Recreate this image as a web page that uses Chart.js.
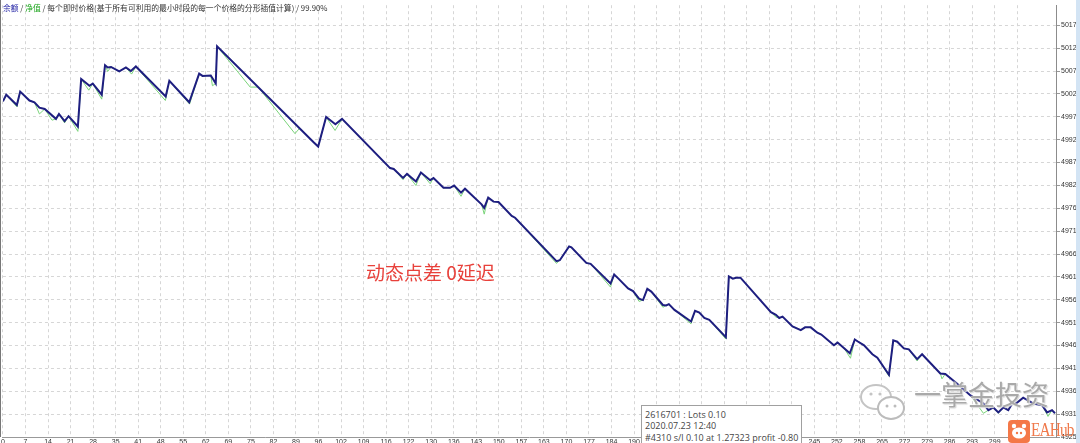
<!DOCTYPE html>
<html>
<head>
<meta charset="utf-8">
<script src="https://cdn.jsdelivr.net/npm/chart.js@4"></script>
<style>
  html, body { margin: 0; padding: 0; width: 1080px; height: 443px; overflow: hidden; background: #fff; }
  #wrap { position: absolute; left: 0; top: 0; width: 1080px; height: 451px; }
  .ov { position: absolute; white-space: nowrap; }
  #title { left: 3px; top: 3px; font: 7.8px/10px "Noto Sans CJK SC", sans-serif; color: #333; }
  #note { left: 366px; top: 262px; font: 19px/20px "Noto Sans CJK SC", sans-serif; color: #e8413b; }
  #tip { left: 641px; top: 405px; width: 161px; height: 45px; border: 1px solid #a0a0a0; background: #fff;
         padding: 3px 0 0 3px; box-sizing: border-box; font: 9px/11.3px "Open Sans", sans-serif; color: #444; }
  #wm { left: 914px; top: 379px; font: 27px/30px "Noto Sans CJK SC", sans-serif; color: #a9a9a9;
        text-shadow: 0 0 2px #fff, 1px 1px 1px #d0d0d0; }
  #hub { left: 1031px; top: 419px; font: 18px/22px "Liberation Serif", serif; color: #f07a4c; letter-spacing: -1px;
         transform: scaleX(0.85); transform-origin: left top; }
  #strip { left: 1076px; top: 0; width: 4px; height: 443px; background: #d3e4f4; }
  #lborder { left: 0; top: 0; width: 1px; height: 437px; background: #777; }
</style>
</head>
<body>
<div id="wrap"><canvas id="chart" width="1080" height="451"></canvas></div>
<div class="ov" id="lborder"></div>
<div class="ov" id="title"><span style="color:#2626a6">余额</span> / <span style="color:#1fa51f">净值</span> / 每个即时价格(基于所有可利用的最小时段的每一个价格的分形插值计算) / 99.90%</div>
<div class="ov" id="note">动态点差 0延迟</div>
<div class="ov" id="tip">2616701 : Lots 0.10<br>2020.07.23 12:40<br>#4310 s/l 0.10 at 1.27323 profit -0.80</div>
<svg class="ov" style="left:859px;top:383px" width="50" height="42">
  <ellipse cx="17" cy="14" rx="15" ry="12" fill="rgba(255,255,255,0.7)" stroke="#c4c4c4" stroke-width="2"/>
  <circle cx="12" cy="11" r="1.6" fill="#c4c4c4"/><circle cx="21" cy="11" r="1.6" fill="#c4c4c4"/>
  <ellipse cx="32" cy="25" rx="13" ry="11" fill="#fff" stroke="#bcbcbc" stroke-width="2"/>
  <circle cx="28" cy="23" r="1.5" fill="#bcbcbc"/><circle cx="36" cy="23" r="1.5" fill="#bcbcbc"/>
</svg>
<div class="ov" id="wm">一掌金投资</div>
<svg class="ov" style="left:1008px;top:420px" width="22" height="23">
  <rect x="0" y="0" width="22" height="23" rx="4" fill="#f47848"/>
  <ellipse cx="11" cy="13" rx="7" ry="5.5" fill="#fff"/>
  <circle cx="6" cy="6" r="2.2" fill="#fff"/><circle cx="16" cy="6" r="2.2" fill="#fff"/>
  <circle cx="9" cy="13" r="1.2" fill="#f47848"/><circle cx="13" cy="13" r="1.2" fill="#f47848"/>
</svg>
<div class="ov" id="hub">EAHub</div>
<div class="ov" id="strip"></div>
<script>
// x: trade number, y: account value
const xTickLabels = [0, 7, 14, 21, 28, 35, 41, 48, 55, 62, 69, 75, 82, 89, 96, 102, 109, 116, 122, 130,
  136, 143, 150, 157, 163, 170, 177, 184, 190, 197, 204, 211, 218, 224, 231, 238, 245, 252, 258, 265,
  272, 279, 286, 293, 299, 306];
const yTickLabels = [4925, 4931, 4936, 4941, 4946, 4951, 4956, 4961, 4966, 4971, 4976, 4982, 4987, 4992,
  4997, 5002, 5007, 5012, 5017];

// balance (dark blue)
const tradeNo = [0, 1.0, 4.2, 5.2, 8.0, 9.5, 11.0, 12.6, 16.0, 16.9,
  18.6, 19.8, 22.6, 23.6, 26.1, 27.1, 29.8, 30.8, 31.6, 32.6,
  35.1, 37.1, 38.6, 40.1, 49.1, 50.2, 56.2, 59.2, 60.2, 62.7,
  64.2, 64.6, 93.8, 95.1, 97.5, 100.3, 102.3, 116.8, 117.9, 120.7,
  121.9, 124.6, 126.1, 128.9, 129.9, 132.9, 134.9, 136.1, 138.2, 139.4,
  144.4, 145.2, 146.4, 148.0, 149.5, 153.5, 154.5, 167.0, 168.0, 170.8,
  171.5, 176.0, 177.3, 183.3, 184.4, 185.7, 188.6, 190.1, 191.9, 193.1,
  194.4, 195.6, 199.1, 200.1, 200.9, 202.6, 207.6, 208.8, 210.1, 211.6,
  213.1, 218.1, 219.0, 220.2, 221.2, 222.5, 231.7, 233.2, 234.2, 235.2,
  238.2, 240.7, 242.0, 243.7, 245.7, 246.9, 250.7, 251.8, 253.7, 255.5,
  257.0, 257.8, 259.8, 262.3, 263.8, 267.3, 268.6, 269.8, 271.8, 273.3,
  275.8, 277.3, 282.8, 284.3, 287.9, 291.9, 295.8, 297.3, 298.8, 300.3,
  301.8, 303.3, 304.5, 306.0, 307.8, 310.8, 313.5, 315.0, 316.5, 317.4];
const balance = [5000.0, 5001.5, 4999.2, 5002.2, 5000.2, 4999.8, 4998.6, 4998.3, 4996.1, 4997.2,
  4995.6, 4996.7, 4994.4, 5005.0, 5003.5, 5004.0, 5001.5, 5008.1, 5007.6, 5007.7,
  5006.7, 5007.6, 5006.8, 5007.8, 5001.1, 5004.6, 4999.8, 5006.2, 5005.7, 5005.8,
  5004.0, 5012.3, 4990.8, 4989.9, 4996.5, 4994.9, 4996.1, 4985.1, 4984.9, 4982.9,
  4983.8, 4982.1, 4984.1, 4982.4, 4982.9, 4980.7, 4980.7, 4981.2, 4979.6, 4980.5,
  4977.0, 4976.2, 4978.5, 4977.6, 4977.5, 4974.4, 4974.0, 4964.3, 4964.5, 4967.6,
  4967.4, 4963.9, 4963.7, 4959.3, 4961.3, 4960.4, 4958.2, 4957.6, 4955.9, 4955.6,
  4958.1, 4957.5, 4954.5, 4954.4, 4954.7, 4953.4, 4950.8, 4953.2, 4952.8, 4951.6,
  4951.2, 4947.3, 4960.9, 4960.4, 4960.6, 4960.6, 4952.9, 4952.3, 4951.6, 4951.9,
  4949.7, 4948.9, 4949.5, 4949.5, 4948.3, 4947.9, 4945.5, 4946.1, 4944.9, 4943.7,
  4946.8, 4946.4, 4945.5, 4943.5, 4942.7, 4938.9, 4946.6, 4946.3, 4944.8, 4944.6,
  4942.4, 4943.5, 4939.2, 4939.1, 4936.9, 4934.3, 4932.5, 4931.0, 4931.6, 4930.5,
  4931.6, 4931.0, 4932.5, 4932.7, 4933.8, 4932.5, 4932.1, 4930.5, 4931.0, 4930.3];

// equity (green), dips below balance while trades are open
const eqTradeNo = [0, 1.0, 4.2, 5.2, 8.0, 9.5, 11.0, 12.6, 14.8, 16.0,
  16.9, 18.6, 19.8, 22.6, 23.6, 25.9, 27.1, 29.8, 30.8, 31.6,
  32.6, 35.1, 37.1, 38.8, 40.1, 49.0, 50.2, 56.3, 59.2, 60.2,
  62.7, 63.2, 64.2, 64.6, 74.6, 77.0, 88.1, 89.5, 93.8, 95.1,
  97.5, 100.2, 102.3, 116.8, 117.9, 120.7, 121.9, 124.6, 126.1, 128.9,
  129.9, 132.9, 134.9, 136.1, 138.2, 139.4, 144.4, 145.2, 146.4, 148.0,
  149.5, 153.5, 154.5, 167.0, 168.0, 170.8, 171.5, 176.0, 177.3, 183.3,
  184.4, 185.7, 188.6, 190.1, 191.9, 193.1, 194.4, 195.6, 199.1, 200.1,
  200.9, 202.6, 207.6, 208.8, 210.1, 211.6, 213.1, 218.1, 219.0, 220.2,
  221.2, 222.5, 231.7, 233.2, 234.2, 235.2, 238.2, 240.7, 242.0, 243.7,
  245.7, 246.9, 250.7, 251.8, 253.7, 255.7, 257.0, 257.8, 259.8, 262.3,
  263.8, 267.3, 268.6, 269.8, 271.8, 273.3, 275.8, 277.3, 282.8, 283.3,
  284.3, 287.9, 291.9, 295.8, 297.3, 298.8, 300.3, 301.8, 303.3, 304.5,
  306.0, 307.8, 310.8, 313.5, 315.3, 316.5, 317.4];
const equity = [5000.0, 5001.5, 4998.8, 5002.2, 5000.2, 4999.8, 4997.2, 4998.3, 4995.8, 4996.1,
  4997.2, 4995.2, 4996.7, 4993.3, 5005.0, 5002.5, 5004.0, 5000.5, 5008.1, 5006.7,
  5007.7, 5006.7, 5007.6, 5006.1, 5007.8, 5000.2, 5004.6, 4999.4, 5006.2, 5005.7,
  5005.8, 5003.5, 5004.0, 5012.3, 5003.2, 5003.2, 4992.8, 4994.0, 4990.8, 4989.9,
  4996.5, 4993.5, 4996.1, 4985.1, 4984.9, 4982.5, 4983.8, 4981.2, 4984.1, 4981.6,
  4982.9, 4980.7, 4980.7, 4981.2, 4978.8, 4980.5, 4977.0, 4974.8, 4978.5, 4977.6,
  4977.5, 4974.4, 4974.0, 4963.8, 4964.5, 4967.6, 4967.4, 4963.9, 4963.7, 4958.5,
  4961.3, 4960.4, 4958.2, 4957.6, 4955.3, 4955.6, 4958.1, 4957.5, 4954.0, 4954.4,
  4954.7, 4953.4, 4950.3, 4953.2, 4952.8, 4951.6, 4951.2, 4946.9, 4960.9, 4960.4,
  4960.6, 4960.6, 4952.9, 4951.8, 4951.6, 4951.9, 4949.7, 4948.9, 4949.5, 4949.5,
  4948.3, 4947.9, 4945.5, 4946.1, 4944.9, 4942.6, 4946.8, 4946.4, 4945.5, 4943.5,
  4942.7, 4938.6, 4946.6, 4946.3, 4944.8, 4944.6, 4942.0, 4943.5, 4939.2, 4938.0,
  4939.1, 4936.9, 4934.3, 4930.3, 4931.0, 4931.6, 4930.3, 4931.6, 4931.0, 4932.5,
  4932.7, 4933.8, 4932.5, 4932.1, 4929.6, 4931.0, 4930.3];

// axis geometry
const X_MAX = 317.7, X_STEP = 6.8;
const Y_MIN = 4925, Y_STEP = 92 / 18, Y_MAX = 5021.5;

const tickFont = { family: 'Liberation Sans', size: 7 };

new Chart(document.getElementById('chart').getContext('2d'), {
  type: 'line',
  data: {
    datasets: [
      { label: '余额', data: tradeNo.map((t, i) => ({ x: t, y: balance[i] })),
        borderColor: '#1e1e80', borderWidth: 2, pointRadius: 0, tension: 0, fill: false },
      { label: '净值', data: eqTradeNo.map((t, i) => ({ x: t, y: equity[i] })),
        borderColor: '#7ad47a', borderWidth: 1, pointRadius: 0, tension: 0, fill: false }
    ]
  },
  options: {
    responsive: false,
    animation: false,
    layout: { padding: 0 },
    plugins: { legend: { display: false }, tooltip: { enabled: false } },
    scales: {
      x: {
        type: 'linear', min: 0, max: X_MAX,
        afterBuildTicks: s => { s.ticks = xTickLabels.map((_, i) => ({ value: i * X_STEP })); },
        afterFit: s => { s.height = 14; },
        ticks: { callback: (v, i) => xTickLabels[i], autoSkip: false, maxRotation: 0,
                 font: tickFont, color: '#333', padding: 1 },
        grid: { color: '#d6d6d6', drawTicks: false },
        border: { display: true, color: '#999', dash: [3, 3] }
      },
      y: {
        position: 'right', min: Y_MIN, max: Y_MAX,
        afterBuildTicks: s => { s.ticks = yTickLabels.map((_, i) => ({ value: Y_MIN + i * Y_STEP })); },
        afterFit: s => { s.width = 24; },
        ticks: { callback: (v, i) => yTickLabels[i], autoSkip: false, font: tickFont, color: '#333', padding: 1 },
        grid: { color: '#d6d6d6', tickLength: 4, tickColor: '#999' },
        border: { display: true, color: '#8c8c8c', dash: [3, 3] }
      }
    }
  }
});
</script>
</body>
</html>
